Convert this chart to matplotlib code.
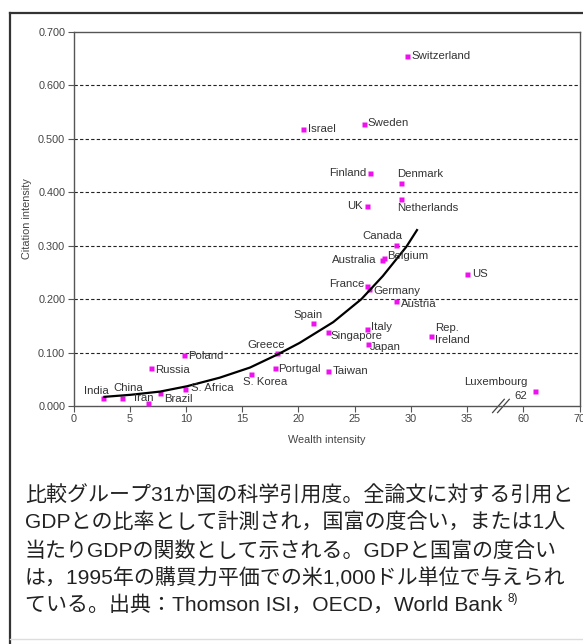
import numpy as np
import matplotlib
matplotlib.use("Agg")
import matplotlib.pyplot as plt
import matplotlib.transforms as mtransforms
from matplotlib.lines import Line2D

# ---- data -------------------------------------------------------------
countries = ["Switzerland", "Israel", "Sweden", "Finland", "Denmark", "UK",
             "Netherlands", "Canada", "Australia", "Belgium", "US", "France",
             "Germany", "Austria", "Spain", "Italy", "Singapore", "Japan",
             "Rep.\nIreland", "Taiwan", "Portugal", "Greece", "S. Korea",
             "Poland", "Russia", "S. Africa", "Brazil", "Iran", "China",
             "India", "Luxembourg"]
wealth = [29.7, 20.4, 25.8, 26.4, 29.1, 26.1,
          29.1, 28.7, 27.4, 27.6, 35.0, 26.1,
          26.3, 28.7, 21.3, 26.1, 22.6, 26.2,
          31.8, 22.6, 17.9, 18.1, 15.8,
          9.8, 6.9, 9.9, 7.7, 6.6, 4.3,
          2.65, 62.0]
citation = [0.656, 0.518, 0.528, 0.436, 0.417, 0.375,
            0.388, 0.301, 0.273, 0.277, 0.247, 0.225,
            0.219, 0.197, 0.156, 0.145, 0.138, 0.116,
            0.131, 0.066, 0.0706, 0.100, 0.060,
            0.0955, 0.0717, 0.031, 0.025, 0.005, 0.0155,
            0.0155, 0.028]

# fitted trend line
fit_wealth = [2.65, 5.1, 7.7, 10.1, 13.0, 15.7, 18.2, 20.1, 23.1, 25.6, 27.5, 29.6, 30.6]
fit_citation = [0.017, 0.021, 0.027, 0.037, 0.053, 0.072, 0.097, 0.118, 0.157,
                0.200, 0.243, 0.298, 0.331]

x_ticks = [0, 5, 10, 15, 20, 25, 30, 35, 60, 70]
y_ticks = [0.0, 0.1, 0.2, 0.3, 0.4, 0.5, 0.6, 0.7]
grid_levels = [0.1, 0.2, 0.3, 0.4, 0.5, 0.6]

caption_lines = [
    "比較グループ31か国の科学引用度。全論文に対する引用と",
    "GDPとの比率として計測され，国富の度合い，または1人",
    "当たりGDPの関数として示される。GDPと国富の度合い",
    "は，1995年の購買力平価での米1,000ドル単位で与えられ",
    "ている。出典：Thomson ISI，OECD，World Bank",
]
caption_ref = "8)"

# label placement: (dx px, dy px, horizontal alignment)
label_pos = {
    "Switzerland": (4, 0, "left"), "Israel": (5, 0, "left"),
    "Sweden": (4, 1, "left"), "Finland": (-4, 0, "right"),
    "Denmark": (-4, 9, "left"), "UK": (-4, 0, "right"),
    "Netherlands": (-4, -9, "left"), "Canada": (6, 9, "right"),
    "Australia": (-5, 0, "right"), "Belgium": (3, 2, "left"),
    "US": (5, 0, "left"), "France": (-2, 2, "right"),
    "Germany": (4, -2, "left"), "Austria": (5, -3, "left"),
    "Spain": (-5, 8, "center"), "Italy": (4, 2, "left"),
    "Singapore": (3, -4, "left"), "Japan": (2, -3, "left"),
    "Rep.\nIreland": (4, 2, "left"), "Taiwan": (5, 0, "left"),
    "Portugal": (3, -1, "left"), "Greece": (-11, 8, "center"),
    "S. Korea": (-8, -8, "left"), "Poland": (4, -1, "left"),
    "Russia": (4, -2, "left"), "S. Africa": (6, 1, "left"),
    "Brazil": (4, -6, "left"), "Iran": (-14, 5, "left"),
    "China": (6, 10, "center"), "India": (-7, 7, "center"),
    "Luxembourg": (-7, 9, "right"),
}


# broken x axis: 0-37.5 linear, 37.5-60 squeezed, 60-70 at half scale
def fwd(x):
    x = np.asarray(x, dtype=float)
    return np.where(x <= 37.5, x,
                    np.where(x < 60, 37.5 + (x - 37.5) * (2.5 / 22.5),
                             40 + (x - 60) / 2.0))


def inv(u):
    u = np.asarray(u, dtype=float)
    return np.where(u <= 37.5, u,
                    np.where(u < 40, 37.5 + (u - 37.5) * 9.0,
                             60 + (u - 40) * 2.0))


W, H = 583, 644
fig = plt.figure(figsize=(W / 100, H / 100), dpi=100)
fig.patch.set_facecolor("white")

label_font = ["Liberation Sans", "DejaVu Sans"]
text_col = "#333333"
axis_col = "#555555"

ax = fig.add_axes([73.5 / W, 1 - 406 / H, 506 / W, 374 / H])
ax.set_xscale("function", functions=(fwd, inv))
ax.set_xlim(0, 70)
ax.set_ylim(0, 0.7)

ax.set_xticks(x_ticks)
ax.set_xticklabels([str(t) for t in x_ticks])
ax.set_yticks(y_ticks)
ax.set_yticklabels([f"{t:.3f}" for t in y_ticks])
ax.xaxis.set_minor_locator(matplotlib.ticker.NullLocator())
ax.tick_params(axis="both", direction="out", length=4, width=0.8,
               color=axis_col, labelsize=7.8, labelcolor="#444444", pad=2)
for lab in ax.get_xticklabels() + ax.get_yticklabels():
    lab.set_family(label_font)

for sp in ax.spines.values():
    sp.set_color(axis_col)
    sp.set_linewidth(1.0)

for g in grid_levels:
    ax.axhline(g, color="#222222", lw=0.8, ls=(0, (3, 2)), zorder=0.5)

ax.set_xlabel("Wealth intensity", fontsize=7.8, color="#444444",
              family=label_font, labelpad=8)
ax.set_ylabel("Citation intensity", fontsize=7.8, color="#444444",
              family=label_font, labelpad=4)

ax.plot(wealth, citation, ls="none", marker="s", ms=3.6,
        color="#ee11ee", mec="none", zorder=3)
ax.plot(fit_wealth, fit_citation, color="black", lw=1.6, zorder=4,
        solid_capstyle="butt", solid_joinstyle="round")

for name, x, y in zip(countries, wealth, citation):
    dx, dy, ha = label_pos[name]
    ax.annotate(name, (x, y), xytext=(dx, dy), textcoords="offset pixels",
                ha=ha, va="center", fontsize=8.2, color=text_col,
                family=label_font, zorder=5, linespacing=1.15)

# value tag under the out-of-range point
lux = countries.index("Luxembourg")
ax.annotate(f"{wealth[lux]:.0f}", (wealth[lux], citation[lux]),
            xytext=(-7, -5), textcoords="offset pixels", ha="right",
            va="center", fontsize=8.2, color=text_col, family=label_font)

# axis break marks
brk = fig.dpi_scale_trans + mtransforms.ScaledTranslation(42, 0, ax.transData)
for off in (0.0, 0.05):
    ax.add_line(Line2D([-0.082 + off, 0.035 + off], [-0.066, 0.067],
                       transform=brk, color="#444444", lw=0.9, clip_on=False))

# outer frame
fig.add_artist(Line2D([10 / W, 10 / W], [0, 1 - 13 / H],
                      transform=fig.transFigure, color="#333333", lw=1.6))
fig.add_artist(Line2D([10 / W, 1], [1 - 13 / H, 1 - 13 / H],
                      transform=fig.transFigure, color="#333333", lw=1.6))
fig.add_artist(Line2D([10 / W, 1], [1 - 639 / H, 1 - 639 / H],
                      transform=fig.transFigure, color="#dddddd", lw=1.0))

# caption
cap_font = ["Liberation Sans", "Noto Sans CJK JP"]
cap_y = [496, 523, 551, 578, 605]
cap_texts = []
for line, y in zip(caption_lines, cap_y):
    cap_texts.append(fig.text(25 / W, 1 - y / H, line, fontsize=15.1,
                              family=cap_font, color="#222222", va="center"))

fig.canvas.draw()
bb = cap_texts[-1].get_window_extent()
fig.text((bb.x1 + 5) / W, 1 - (cap_y[-1] - 6) / H, caption_ref, fontsize=8.5,
         family=cap_font, color="#222222", va="center")

fig.savefig("out.png", dpi=100, facecolor="white")
